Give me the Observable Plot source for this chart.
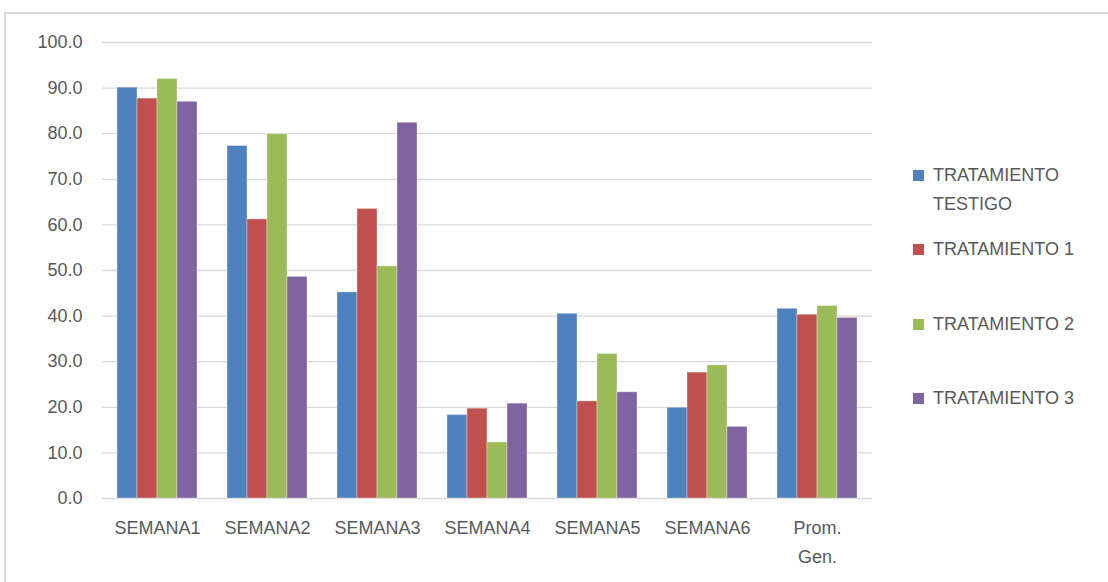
<!DOCTYPE html>
<html>
<head>
<meta charset="utf-8">
<script src="https://cdn.jsdelivr.net/npm/d3@7"></script>
<script src="https://cdn.jsdelivr.net/npm/@observablehq/plot@0.6"></script>
<style>
  html, body { margin: 0; padding: 0; background: #fff; overflow: hidden; width: 1108px; height: 582px; }
  #frame { position: absolute; left: 4px; top: 12px; width: 1200px; height: 700px; border: 2px solid #d9d9d9; box-sizing: border-box; }
  #grid, #chart { position: absolute; left: 0; top: 0; }
  #legend { position: absolute; left: 0; top: 0; font-family: "Liberation Sans", Arial, sans-serif; font-size: 18px; color: #595959; }
  .item { position: absolute; left: 913px; }
  .sw { position: absolute; left: 0; width: 11px; height: 11px; }
  .lb { position: absolute; left: 20px; white-space: nowrap; line-height: 29px; }
</style>
</head>
<body>
<div id="frame"></div>
<div id="grid"></div>
<div id="chart"></div>
<div id="legend"></div>
<script>
const categories = ["SEMANA1", "SEMANA2", "SEMANA3", "SEMANA4", "SEMANA5", "SEMANA6", "Prom. Gen."];
const series = ["TRATAMIENTO TESTIGO", "TRATAMIENTO 1", "TRATAMIENTO 2", "TRATAMIENTO 3"];
const testigo = [90.1, 77.3, 45.2, 18.3, 40.5, 19.9, 41.6];
const trat1   = [87.7, 61.2, 63.5, 19.7, 21.3, 27.6, 40.3];
const trat2   = [92.0, 79.9, 50.9, 12.3, 31.7, 29.2, 42.2];
const trat3   = [87.0, 48.6, 82.4, 20.8, 23.3, 15.7, 39.6];
const yTicks = [0, 10, 20, 30, 40, 50, 60, 70, 80, 90, 100];
const colors = ["#4F81BD", "#C0504D", "#9BBB59", "#8064A2"];

const valuesBySeries = [testigo, trat1, trat2, trat3];
const data = [];
categories.forEach((c, i) => {
  series.forEach((s, j) => data.push({cat: c, serie: s, value: valuesBySeries[j][i]}));
});

const common = {
  width: 880,
  height: 582,
  marginLeft: 102,
  marginRight: 8,
  marginTop: 42,
  marginBottom: 84,
  style: {fontFamily: "'Liberation Sans', Arial, sans-serif", fontSize: "18px", color: "#595959", background: "transparent"}
};

// Background layer: gridlines and y axis (no facets so lines span whole plot)
const grid = Plot.plot({
  ...common,
  x: {domain: categories, axis: null},
  y: {domain: [0, 100], label: null},
  marks: [
    Plot.gridY(yTicks, {stroke: "#d9d9d9", strokeOpacity: 1, strokeWidth: 1.3}),
    Plot.axisY(yTicks, {tickSize: 0, tickPadding: 20, tickFormat: d => d.toFixed(1), label: null, fill: "#595959", fontSize: 18})
  ]
});
document.getElementById("grid").appendChild(grid);

// Foreground layer: grouped bars
const chart = Plot.plot({
  ...common,
  fx: {domain: categories, paddingInner: 0.27, paddingOuter: 0.135, label: null},
  x: {domain: series, padding: 0, axis: null},
  y: {domain: [0, 100], axis: null},
  color: {domain: series, range: colors},
  marks: [
    Plot.barY(data, {fx: "cat", x: "serie", y: "value", fill: "serie", stroke: "#ffffff", strokeOpacity: 0.35, strokeWidth: 1}),
    Plot.axisFx({anchor: "bottom", tickSize: 0, tickPadding: 14, label: null, fill: "#595959", fontSize: 18,
      tickFormat: d => d.replace(" ", "\n"), lineHeight: 1.65})
  ]
});
document.getElementById("chart").appendChild(chart);

// Legend
const legendPos = [175, 249, 324, 398];
const legendLabels = ["TRATAMIENTO<br>TESTIGO", "TRATAMIENTO 1", "TRATAMIENTO 2", "TRATAMIENTO 3"];
const legend = document.getElementById("legend");
series.forEach((s, i) => {
  const item = document.createElement("div");
  item.className = "item";
  item.style.top = legendPos[i] + "px";
  const sw = document.createElement("div");
  sw.className = "sw";
  sw.style.top = "-5px";
  sw.style.background = colors[i];
  const lb = document.createElement("div");
  lb.className = "lb";
  lb.style.top = "-14.5px";
  lb.innerHTML = legendLabels[i];
  item.appendChild(sw);
  item.appendChild(lb);
  legend.appendChild(item);
});
</script>
</body>
</html>
